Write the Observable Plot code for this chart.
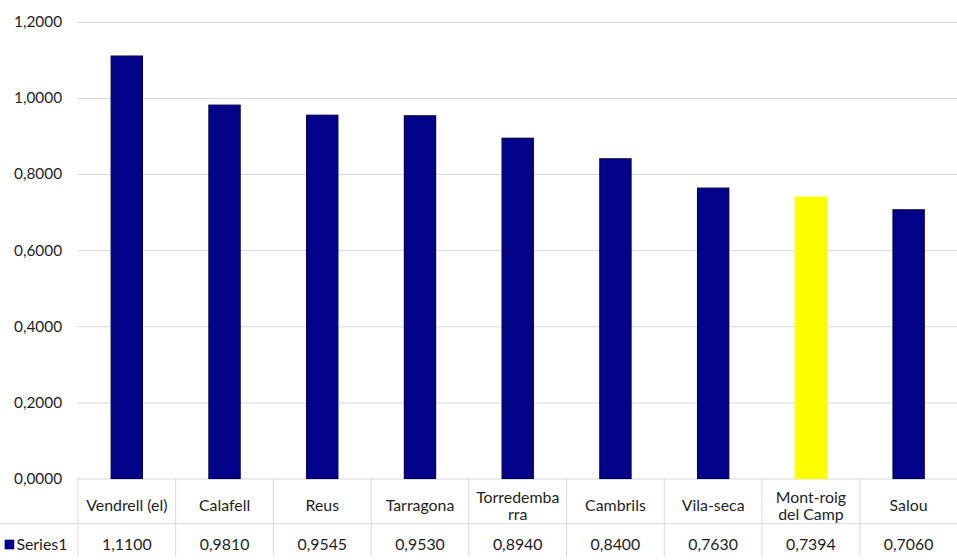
<!DOCTYPE html>
<html>
<head>
<meta charset="utf-8">
<script src="https://cdn.jsdelivr.net/npm/d3@7"></script>
<script src="https://cdn.jsdelivr.net/npm/@observablehq/plot@0.6"></script>
<style>
  html, body { margin: 0; padding: 0; background: #fff; overflow: hidden; }
  #chart { width: 957px; height: 560px; overflow: hidden; }
</style>
</head>
<body>
<div id="chart"></div>
<script>
// ---- data ----
const cities = ["Vendrell (el)", "Calafell", "Reus", "Tarragona", "Torredembarra", "Cambrils", "Vila-seca", "Mont-roig del Camp", "Salou"];
const cityLabels = ["Vendrell (el)", "Calafell", "Reus", "Tarragona", "Torredemba\nrra", "Cambrils", "Vila-seca", "Mont-roig\ndel Camp", "Salou"];
const values = [1.1100, 0.9810, 0.9545, 0.9530, 0.8940, 0.8400, 0.7630, 0.7394, 0.7060];
const highlighted = "Mont-roig del Camp";
const seriesName = "Series1";
const yTicks = [0, 0.2, 0.4, 0.6, 0.8, 1.0, 1.2];

// ---- build ----
const navy = "#03038a";
const navyEdge = "#00004d";
const yellow = "#ffff00";
const ink = "#1e1e1e";
const fmt = v => d3.format(".4f")(v).replace(".", ",");
const rows = cities.map((c, i) => ({city: c, label: cityLabels[i], value: values[i], i}));
const bounds = d3.range(cities.length + 1);
const font = "Lato, 'Open Sans', sans-serif";

const chart = Plot.plot({
  width: 964,
  height: 560,
  marginTop: 22,
  marginBottom: 78,
  marginLeft: 78,
  marginRight: 0,
  style: {fontFamily: font, fontSize: "15.5px", color: ink, background: "#fff", overflow: "visible"},
  x: {domain: [0, cities.length], axis: null},
  y: {domain: [0, 1.2], ticks: yTicks, tickFormat: fmt, tickSize: 0, tickPadding: 16, label: null},
  color: {type: "identity"},
  marks: [
    Plot.ruleY(yTicks, {stroke: "#d9d9d9", strokeWidth: 1}),
    Plot.rectY(rows, {
      x1: "i", x2: d => d.i + 1, y: "value",
      fill: d => d.city === highlighted ? yellow : navy,
      stroke: d => d.city === highlighted ? yellow : navyEdge,
      strokeWidth: 1.2,
      insetLeft: 34, insetRight: 33
    }),
    // data table grid
    Plot.ruleX(bounds, {x: d => d, y1: 0, y2: 0, insetBottom: -78, stroke: "#d9d9d9"}),
    Plot.ruleY([0], {dy: 45, insetLeft: -78, stroke: "#d9d9d9"}),
    // data table text
    Plot.text(rows, {x: d => d.i + 0.5, y: 0, text: "label", dy: 27, lineAnchor: "middle", lineHeight: 1.1, fontSize: 16, fill: ink}),
    Plot.text(rows, {x: d => d.i + 0.5, y: 0, text: d => fmt(d.value), dy: 66, fontSize: 16, fill: ink}),
    Plot.dot([seriesName], {x: 0, y: 0, dx: -69, dy: 66, symbol: "square", r: 5.5, fill: navy}),
    Plot.text([seriesName], {x: 0, y: 0, text: d => d, dx: -62, dy: 66, textAnchor: "start", fontSize: 16, fill: ink})
  ]
});
document.getElementById("chart").appendChild(chart);
</script>
</body>
</html>
